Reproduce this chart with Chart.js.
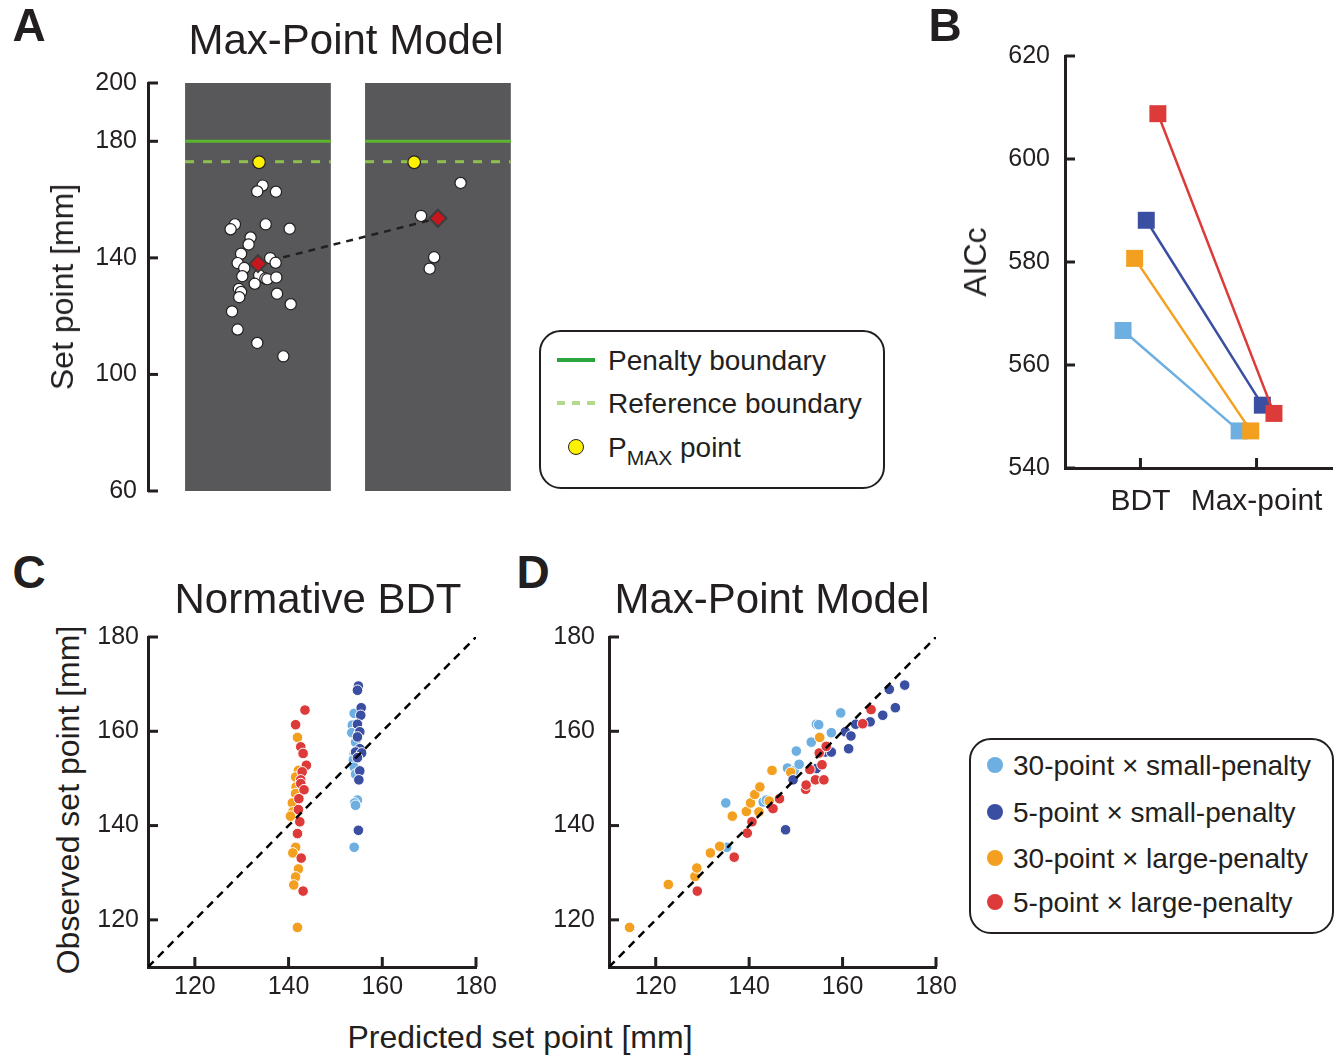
<!DOCTYPE html>
<html>
<head>
<meta charset="utf-8">
<title>Max-Point Model</title>
<script src="https://cdn.jsdelivr.net/npm/chart.js"></script>
<style>
  body { margin: 0; background: #fff; font-family: 'Liberation Sans', Arial, sans-serif; color: #231f20; }
  #fig { position: relative; width: 1339px; height: 1055px; overflow: hidden; }
  canvas { position: absolute; }
  .t { position: absolute; white-space: nowrap; line-height: 1; transform: translate(-50%, -50%); }
  .rot { transform: translate(-50%, -50%) rotate(-90deg); }
  .letter { font-weight: bold; font-size: 46px; }
  .title { font-size: 42px; }
  .axis { font-size: 32px; }
  .box { position: absolute; border: 2px solid #231f20; border-radius: 22px; box-sizing: border-box; background: #fff; }
  .li { position: absolute; font-size: 28px; line-height: 1; transform: translateY(-50%); white-space: nowrap; }
  .li sub { font-size: 21px; vertical-align: -8px; line-height: 0; }
  .dot { position: absolute; width: 16px; height: 16px; border-radius: 50%; transform: translate(-50%, -50%); }
</style>
</head>
<body>
<div id="fig">
  <canvas id="chartA" width="530" height="521" style="left:0;top:0"></canvas>
  <canvas id="chartB" width="420" height="506" style="left:940px;top:24px"></canvas>
  <canvas id="chartC" width="430" height="405" style="left:90px;top:605px"></canvas>
  <canvas id="chartD" width="450" height="405" style="left:530px;top:605px"></canvas>

  <div class="t letter" style="left:29px;top:25px">A</div>
  <div class="t letter" style="left:945px;top:25px">B</div>
  <div class="t letter" style="left:29px;top:572px">C</div>
  <div class="t letter" style="left:533px;top:572px">D</div>

  <div class="t title" style="left:346px;top:40px">Max-Point Model</div>
  <div class="t title" style="left:318px;top:599px">Normative BDT</div>
  <div class="t title" style="left:772px;top:599px">Max-Point Model</div>

  <div class="t axis rot" style="left:62px;top:287px">Set point [mm]</div>
  <div class="t axis rot" style="left:975px;top:262px">AICc</div>
  <div class="t axis rot" style="left:68px;top:800px">Observed set point [mm]</div>
  <div class="t axis" style="left:520px;top:1037px">Predicted set point [mm]</div>

  <!-- legend of panel A -->
  <div class="box" style="left:539px;top:330px;width:346px;height:159px"></div>
  <div style="position:absolute;left:557px;top:358px;width:38px;height:4px;background:#2ca53c"></div>
  <div style="position:absolute;left:557px;top:401px;width:38px;height:4px;background:repeating-linear-gradient(90deg,#b5d98a 0 8px,transparent 8px 15px)"></div>
  <div class="dot" style="left:576px;top:447px;background:#fff200;border:1.5px solid #231f20;box-sizing:border-box"></div>
  <div class="li" style="left:608px;top:361px">Penalty boundary</div>
  <div class="li" style="left:608px;top:404px">Reference boundary</div>
  <div class="li" style="left:608px;top:448px">P<sub>MAX</sub> point</div>

  <!-- legend of panel D -->
  <div class="box" style="left:969px;top:738px;width:365px;height:196px"></div>
  <div id="legendD"></div>
</div>

<script>
// ---- panel A: set points per condition ----
const conditions = [1, 2];
const penaltyBoundary = 180;
const referenceBoundary = 173;
const aTicks = [60, 100, 140, 180, 200];
const leftX = [1.026, 0.996, 1.100, 0.872, 0.848, 1.043, 1.176, 0.959, 0.948, 0.906, 0.887, 0.924, 1.068, 1.098,
  0.913, 1.007, 1.041, 1.052, 1.102, 0.982, 0.894, 0.906, 0.896, 1.106, 1.182, 0.856, 0.887, 0.996, 1.141];
const leftY = [164.8, 162.8, 162.7, 151.5, 149.8, 151.5, 150.0, 147.0, 144.6, 141.4, 138.2, 136.5, 139.9, 138.3,
  133.7, 134.0, 132.9, 132.7, 133.3, 131.1, 129.3, 128.3, 126.5, 127.7, 124.1, 121.6, 115.4, 110.8, 106.2];
const rightX = [2.126, 1.906, 1.979, 1.954];
const rightY = [165.7, 154.4, 140.2, 136.3];
const pmaxX = [1.006, 1.868];
const pmaxY = [172.8, 172.8];
const meanX = [1, 2];
const meanY = [138.0, 153.6];

// ---- panel B: AICc ----
const models = ['BDT', 'Max-point'];
const modelPos = [1, 2];
const bTicks = [540, 560, 580, 600, 620];
const groups = ['30-point × small-penalty', '5-point × small-penalty', '30-point × large-penalty', '5-point × large-penalty'];
const aicc30Small = [566.7, 547.2];
const aicc5Small = [588.1, 552.2];
const aicc30Large = [580.7, 547.2];
const aicc5Large = [608.8, 550.6];

// ---- panels C and D: predicted vs observed ----
const xyTicks = [120, 140, 160, 180];
const diagonal = [110, 180];
const obs30Small = [163.8, 161.3, 159.7, 159.5, 157.7, 155.3, 153.9, 152.4, 150.9, 145.4, 144.8, 144.3, 135.4];
const bdt30Small = [154.0, 153.6, 153.5, 155.0, 154.3, 154.0, 153.8, 154.0, 154.3, 154.7, 154.1, 154.3, 154.0];
const obs5Small = [169.6, 168.7, 165.0, 163.4, 161.5, 159.9, 158.8, 156.3, 155.6, 155.4, 154.4, 151.6, 149.7, 139.0];
const bdt5Small = [154.9, 154.7, 155.5, 155.4, 154.7, 155.2, 154.7, 155.2, 154.3, 155.6, 154.7, 155.2, 155.0, 154.9];
const obs30Large = [158.7, 151.7, 150.3, 148.2, 146.8, 144.8, 142.9, 142.0, 135.4, 134.2, 130.8, 129.1, 127.4, 118.4];
const bdt30Large = [141.9, 142.1, 141.5, 141.6, 141.5, 140.8, 140.9, 140.4, 141.5, 140.9, 142.1, 141.5, 141.1, 141.9];
const obs5Large = [164.5, 161.4, 156.7, 155.3, 152.8, 151.4, 149.7, 148.9, 147.6, 145.7, 143.4, 140.8, 138.3, 133.1, 126.1];
const bdt5Large = [143.5, 141.5, 142.6, 143.1, 143.8, 142.9, 142.6, 142.6, 143.3, 142.2, 142.1, 142.4, 141.9, 142.7, 143.1];

const mp30SmallX = [135.0, 135.2, 143.0, 143.7, 148.2, 149.6, 150.1, 150.7, 153.3, 154.4, 154.9, 157.6, 159.6];
const mp30SmallY = [144.8, 135.4, 145.0, 145.4, 152.2, 151.6, 155.8, 153.0, 157.7, 161.5, 161.4, 159.7, 163.9];
const mp5SmallX = [147.8, 149.4, 154.4, 156.3, 157.6, 160.6, 161.3, 161.8, 162.8, 165.9, 168.6, 170.0, 171.3, 173.3];
const mp5SmallY = [139.1, 149.7, 152.1, 155.6, 155.6, 159.9, 156.3, 159.0, 161.5, 162.0, 163.4, 168.9, 165.0, 169.8];
const mp30LargeX = [114.4, 122.7, 128.4, 128.8, 131.7, 133.7, 136.4, 139.4, 140.3, 141.2, 142.3, 142.1, 144.3, 144.9, 148.9, 155.1];
const mp30LargeY = [118.4, 127.5, 129.2, 131.0, 134.2, 135.6, 142.0, 143.0, 144.8, 146.6, 148.2, 142.9, 145.2, 151.7, 151.3, 158.7];
const mp5LargeX = [128.9, 136.8, 139.6, 140.6, 145.1, 146.5, 152.1, 152.2, 153.0, 154.2, 156.0, 155.6, 155.0, 156.5, 164.3, 166.1];
const mp5LargeY = [126.1, 133.3, 138.4, 140.8, 143.6, 145.7, 147.7, 148.6, 151.9, 149.7, 149.7, 152.9, 155.4, 156.8, 161.6, 164.6];

// ---- styling ----
const ink = '#231f20';
const groupColors = ['#6dafe1', '#3a4ea2', '#f3a020', '#dd3a3a'];
const font = "'Liberation Sans', Arial, sans-serif";
Chart.defaults.font.family = font;
Chart.defaults.color = ink;
Chart.defaults.animation = false;
Chart.defaults.plugins.legend.display = false;
Chart.defaults.plugins.tooltip.enabled = false;

const pts = (xs, ys) => xs.map((x, i) => ({ x: x, y: ys[i] }));
const fixedTicks = list => s => { s.ticks = list.map(v => ({ value: v })); };

// tick marks pointing into the plot
const inTicks = {
  id: 'inTicks',
  afterDraw(chart) {
    const { ctx, chartArea } = chart;
    ctx.save();
    ctx.strokeStyle = ink;
    ctx.lineWidth = 3;
    Object.values(chart.scales).forEach(s => {
      if (!s.options.display) return;
      s.ticks.forEach(t => {
        const p = s.getPixelForValue(t.value);
        ctx.beginPath();
        if (s.isHorizontal()) { ctx.moveTo(p, chartArea.bottom); ctx.lineTo(p, chartArea.bottom - 10); }
        else { ctx.moveTo(chartArea.left, p); ctx.lineTo(chartArea.left + 10, p); }
        ctx.stroke();
      });
    });
    ctx.restore();
  }
};

// penalty / reference lines drawn across each grey column
const boundaryLines = {
  id: 'boundaryLines',
  afterDatasetDraw(chart, args) {
    if (args.index !== 0) return;
    const ctx = chart.ctx, y = chart.scales.y;
    ctx.save();
    ctx.lineWidth = 3;
    args.meta.data.forEach(bar => {
      const l = bar.x - bar.width / 2, r = bar.x + bar.width / 2;
      ctx.strokeStyle = '#5cb531';
      ctx.setLineDash([]);
      ctx.beginPath();
      ctx.moveTo(l, y.getPixelForValue(penaltyBoundary));
      ctx.lineTo(r, y.getPixelForValue(penaltyBoundary));
      ctx.stroke();
      ctx.strokeStyle = '#8fbf4f';
      ctx.setLineDash([9, 9]);
      ctx.beginPath();
      ctx.moveTo(l, y.getPixelForValue(referenceBoundary));
      ctx.lineTo(r, y.getPixelForValue(referenceBoundary));
      ctx.stroke();
    });
    ctx.restore();
  }
};

function yAxis(min, max, ticks, width, pad) {
  return {
    type: 'linear', min: min, max: max,
    afterBuildTicks: fixedTicks(ticks),
    afterFit: s => { s.width = width; },
    grid: { display: false, drawTicks: false },
    border: { color: ink, width: 3 },
    ticks: { font: { size: 25 }, color: ink, padding: pad }
  };
}

// panel A
new Chart(document.getElementById('chartA'), {
  data: {
    datasets: [
      { type: 'bar', data: conditions.map(c => ({ x: c, y: 200 })), backgroundColor: '#58585a',
        barPercentage: 0.81, categoryPercentage: 1, order: 5 },
      { type: 'line', data: pts(meanX, meanY), borderColor: ink, borderWidth: 2.5, borderDash: [7, 6],
        pointRadius: 0, order: 4 },
      { type: 'scatter', data: pts(leftX.concat(rightX), leftY.concat(rightY)), backgroundColor: '#fff',
        borderColor: ink, borderWidth: 1.2, pointRadius: 5.6, order: 3 },
      { type: 'scatter', data: pts(pmaxX, pmaxY), backgroundColor: '#fff200', borderColor: ink,
        borderWidth: 1.2, pointRadius: 6.3, order: 2 },
      { type: 'scatter', data: pts(meanX, meanY), pointStyle: 'rectRot', backgroundColor: '#c8161e',
        borderColor: '#3d3d3d', borderWidth: 2, pointRadius: 8.5, order: 1 }
    ]
  },
  options: {
    responsive: false,
    layout: { padding: { left: 0, top: 83, right: 19, bottom: 30 } },
    scales: {
      x: { type: 'linear', min: 0.389, max: 2.406, offset: false, display: false,
        afterBuildTicks: fixedTicks(conditions) },
      y: yAxis(60, 200, aTicks, 148, 11)
    }
  },
  plugins: [boundaryLines, inTicks]
});

// panel B
const aicc = [aicc30Small, aicc5Small, aicc30Large, aicc5Large];
const bShift = [-0.15, 0.05, -0.05, 0.15];
const bOrder = [4, 3, 2, 1];
new Chart(document.getElementById('chartB'), {
  type: 'line',
  data: {
    datasets: groups.map((g, i) => ({
      label: g,
      data: aicc[i].map((v, j) => ({ x: modelPos[j] + bShift[i], y: v })),
      borderColor: groupColors[i], backgroundColor: groupColors[i],
      borderWidth: 2.5, pointStyle: 'rect', pointRadius: 12, pointBorderWidth: 0, order: bOrder[i]
    }))
  },
  options: {
    responsive: false,
    layout: { padding: { left: 0, top: 32, right: 28, bottom: 0 } },
    scales: {
      x: {
        type: 'linear', min: 0.35, max: 2.65,
        afterBuildTicks: fixedTicks(modelPos),
        afterFit: s => { s.height = 62; },
        grid: { display: false, drawTicks: false },
        border: { color: ink, width: 3 },
        ticks: { font: { size: 30 }, color: ink, padding: 16, callback: v => models[modelPos.indexOf(v)] }
      },
      y: yAxis(540, 620, bTicks, 125, 15)
    }
  },
  plugins: [inTicks]
});

// panels C and D
function scatterChart(id, series, yWidth, yPad) {
  const order = [4, 2, 3, 1];
  const datasets = series.map((s, i) => ({
    type: 'scatter', label: groups[i], data: pts(s[0], s[1]),
    backgroundColor: groupColors[i], borderColor: '#fff', borderWidth: 1, pointRadius: 5.3, order: order[i]
  }));
  datasets.push({ type: 'line', data: pts(diagonal, diagonal), borderColor: '#000', borderWidth: 2.5,
    borderDash: [8, 6], pointRadius: 0, order: 0 });
  new Chart(document.getElementById(id), {
    data: { datasets: datasets },
    options: {
      responsive: false,
      layout: { padding: { left: 0, top: 32, right: 44, bottom: 0 } },
      scales: {
        x: {
          type: 'linear', min: 110, max: 180,
          afterBuildTicks: fixedTicks(xyTicks),
          afterFit: s => { s.height = 43; },
          grid: { display: false, drawTicks: false },
          border: { color: ink, width: 3 },
          ticks: { font: { size: 25 }, color: ink, padding: 5 }
        },
        y: yAxis(110, 180, xyTicks, yWidth, yPad)
      }
    },
    plugins: [inTicks]
  });
}
scatterChart('chartC', [[bdt30Small, obs30Small], [bdt5Small, obs5Small], [bdt30Large, obs30Large], [bdt5Large, obs5Large]], 58, 9);
scatterChart('chartD', [[mp30SmallX, mp30SmallY], [mp5SmallX, mp5SmallY], [mp30LargeX, mp30LargeY], [mp5LargeX, mp5LargeY]], 79, 14);

// legend of panel D
const legendD = document.getElementById('legendD');
const legendRows = [765, 812, 858, 902];
groups.forEach((g, i) => {
  const d = document.createElement('div');
  d.className = 'dot';
  d.style.left = '995px';
  d.style.top = legendRows[i] + 'px';
  d.style.background = groupColors[i];
  legendD.appendChild(d);
  const t = document.createElement('div');
  t.className = 'li';
  t.style.left = '1013px';
  t.style.top = (legendRows[i] + 1) + 'px';
  t.textContent = g;
  legendD.appendChild(t);
});
</script>
</body>
</html>
